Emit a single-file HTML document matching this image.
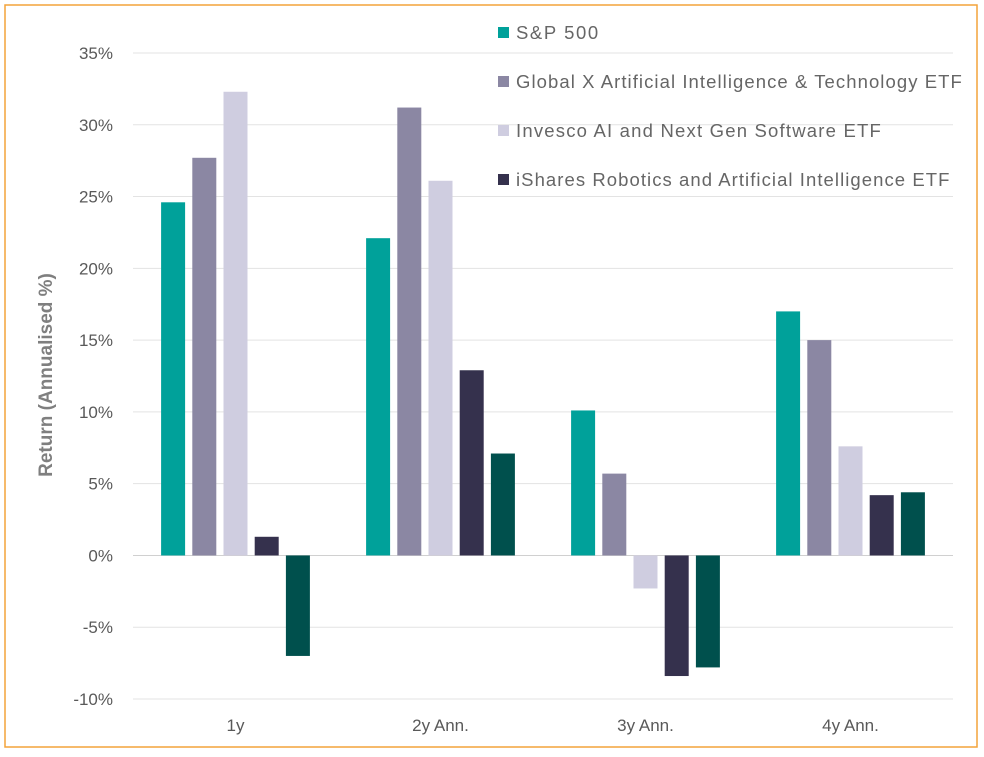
<!DOCTYPE html>
<html><head><meta charset="utf-8">
<style>
html,body{margin:0;padding:0;background:#fff;}
svg{display:block;font-family:"Liberation Sans",Arial,sans-serif;}
</style></head>
<body>
<svg id="chart" width="984" height="757">
<rect x="5" y="5" width="972" height="742" fill="#fff" stroke="#F3A33A" stroke-width="1.5"/>
<g id="grid"></g><g id="bars"></g><g id="yticks"></g><g id="xticks"></g><g id="legend"></g>
<text transform="translate(52,375) rotate(-90)" text-anchor="middle" font-size="19" font-weight="bold" fill="#7f7f7f">Return (Annualised %)</text>
</svg>
<script>
const categories=["1y","2y Ann.","3y Ann.","4y Ann."];
const seriesNames=["S&P 500","Global X Artificial Intelligence & Technology ETF","Invesco AI and Next Gen Software ETF","iShares Robotics and Artificial Intelligence ETF","Fifth series"];
const sp500=[24.6,22.1,10.1,17.0];
const globalX=[27.7,31.2,5.7,15.0];
const invesco=[32.3,26.1,-2.3,7.6];
const ishares=[1.3,12.9,-8.4,4.2];
const fifth=[-7.0,7.1,-7.8,4.4];
const yTicks=[35,30,25,20,15,10,5,0,-5,-10];
const series=[sp500,globalX,invesco,ishares,fifth];
const colors=["#00A19A","#8B87A3","#CFCDE0","#35314D","#00504D"];
const NS="http://www.w3.org/2000/svg";
const x0=133,x1=953,yTop=53,yBot=699,vMax=35,vMin=-10;
const y=v=>yTop+(vMax-v)*(yBot-yTop)/(vMax-vMin);
const band=(x1-x0)/categories.length;
const bx=(c,s)=>x0+c*band+band/2+(s-2)*31.2-12;
function mk(tag,attrs,parent){const e=document.createElementNS(NS,tag);for(const k in attrs)e.setAttribute(k,attrs[k]);document.getElementById(parent).appendChild(e);return e;}
yTicks.forEach(t=>{
 const l=mk("line",{x1:x0,x2:x1,y1:y(t),y2:y(t),stroke:t===0?"#d0d0d0":"#e3e3e3","stroke-width":1},"grid");
 
 
 const tx=mk("text",{x:113,y:y(t)+6,"text-anchor":"end","font-size":17,fill:"#595959"},"yticks");
 tx.textContent=t+"%";
 
 
});
categories.forEach((c,i)=>{
 const tx=mk("text",{x:x0+i*band+band/2,y:731,"text-anchor":"middle","font-size":17,fill:"#595959"},"xticks");
 tx.textContent=c;
 
 
 series.forEach((s,j)=>{
  const v=s[i];
  const r=mk("rect",{x:bx(i,j),width:24,y:Math.min(y(v),y(0)),height:Math.abs(y(v)-y(0)),fill:colors[j]},"bars");
  
  
 });
});
seriesNames.slice(0,4).forEach((n,i)=>{
 const ly=33+i*49;
 const r=mk("rect",{x:498,y:ly-6,width:11,height:11,fill:colors[i]},"legend");
 
 
 const t=mk("text",{x:516,y:ly+6,"font-size":18.5,fill:"#666"},"legend");
 t.textContent=n;
 
 
 const w=t.getComputedTextLength();
 if(w>0){t.setAttribute("textLength",(w*1.13).toFixed(1));t.setAttribute("lengthAdjust","spacing");}
});
</script>
</body></html>
